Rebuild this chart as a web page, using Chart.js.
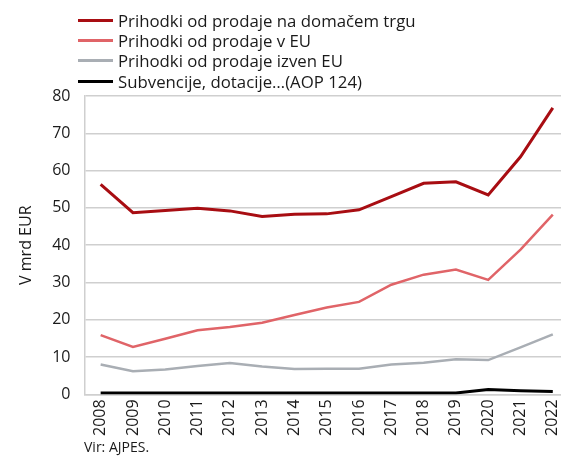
<!DOCTYPE html>
<html>
<head>
<meta charset="utf-8">
<script src="https://cdn.jsdelivr.net/npm/chart.js@4"></script>
<style>
  html, body { margin: 0; padding: 0; background: #fff; overflow: hidden; }
  #wrap { position: relative; width: 561px; height: 457px; overflow: hidden; }
  #legend { position: absolute; left: 78px; top: 10px; font: 16.8px "Open Sans", sans-serif; color: #1a1a1a; }
  .row { display: flex; align-items: center; height: 20.3px; }
  .swatch { width: 35px; height: 3px; margin-right: 5px; }
  #source { position: absolute; left: 84px; top: 440px; font: 14px/14px "Open Sans", sans-serif; color: #1a1a1a; }
</style>
</head>
<body>
<div id="wrap">
  <canvas id="chartOne" width="577" height="457"></canvas>
  <div id="legend"></div>
  <div id="source">Vir: AJPES.</div>
</div>
<script>
// data, billions EUR
const years = ['2008', '2009', '2010', '2011', '2012', '2013', '2014', '2015', '2016', '2017', '2018', '2019', '2020', '2021', '2022'];
const domestic = [56.3, 48.7, 49.3, 49.9, 49.2, 47.7, 48.3, 48.4, 49.5, 53.0, 56.6, 57.0, 53.5, 63.7, 76.8];
const inEU = [15.9, 12.7, 14.9, 17.2, 18.1, 19.2, 21.3, 23.3, 24.8, 29.4, 32.1, 33.5, 30.7, 38.8, 48.2];
const outsideEU = [8.0, 6.2, 6.7, 7.6, 8.4, 7.5, 6.8, 6.9, 6.9, 8.0, 8.5, 9.4, 9.2, 12.6, 16.1];
const subsidies = [0.4, 0.4, 0.4, 0.4, 0.4, 0.4, 0.4, 0.4, 0.4, 0.4, 0.4, 0.4, 1.3, 1.0, 0.8];
const yTicks = [0, 10, 20, 30, 40, 50, 60, 70, 80];

const seriesNames = [
    'Prihodki od prodaje na domačem trgu',
    'Prihodki od prodaje v EU',
    'Prihodki od prodaje izven EU',
    'Subvencije, dotacije…(AOP 124)'
];
const seriesColors = ['#a80d12', '#e06468', '#a9aeb4', '#000000'];
const seriesWidths = [3, 2.5, 2.5, 3];
const seriesData = [domestic, inEU, outsideEU, subsidies];

// legend, one item per row
const legend = document.getElementById('legend');
seriesNames.forEach((name, i) => {
    const row = document.createElement('div');
    row.className = 'row';
    row.innerHTML = '<span class="swatch" style="background:' + seriesColors[i] + '"></span><span>' + name + '</span>';
    legend.appendChild(row);
});

const chartOne = new Chart(document.getElementById('chartOne'), {
    type: 'line',
    data: {
        labels: years,
        datasets: seriesNames.map((name, i) => ({
            label: name,
            data: seriesData[i],
            borderColor: seriesColors[i],
            backgroundColor: seriesColors[i],
            borderWidth: seriesWidths[i],
            pointRadius: 0,
            tension: 0
        }))
    },
    options: {
        responsive: false,
        animation: false,
        layout: { padding: { top: 96, left: 11, right: 0, bottom: 16 } },
        plugins: {
            legend: { display: false },
            tooltip: { enabled: false }
        },
        scales: {
            x: {
                offset: true,
                grid: { display: false, drawTicks: false },
                border: { color: '#cfcfcf', width: 1.5 },
                ticks: {
                    minRotation: 90,
                    maxRotation: 90,
                    padding: 5,
                    color: '#1a1a1a',
                    font: { family: 'Open Sans', size: 16 }
                }
            },
            y: {
                min: 0,
                max: 80,
                afterBuildTicks: (axis) => { axis.ticks = yTicks.map(v => ({ value: v })); },
                grid: { color: '#cfcfcf', lineWidth: 1.5, drawTicks: false },
                border: { color: '#cfcfcf', width: 1.5 },
                ticks: {
                    padding: 14,
                    color: '#1a1a1a',
                    font: { family: 'Open Sans', size: 16 }
                },
                title: {
                    display: true,
                    text: 'V mrd EUR',
                    color: '#1a1a1a',
                    font: { family: 'Open Sans', size: 16 },
                    padding: { top: 6, bottom: 2 }
                }
            }
        }
    }
});
</script>
</body>
</html>
